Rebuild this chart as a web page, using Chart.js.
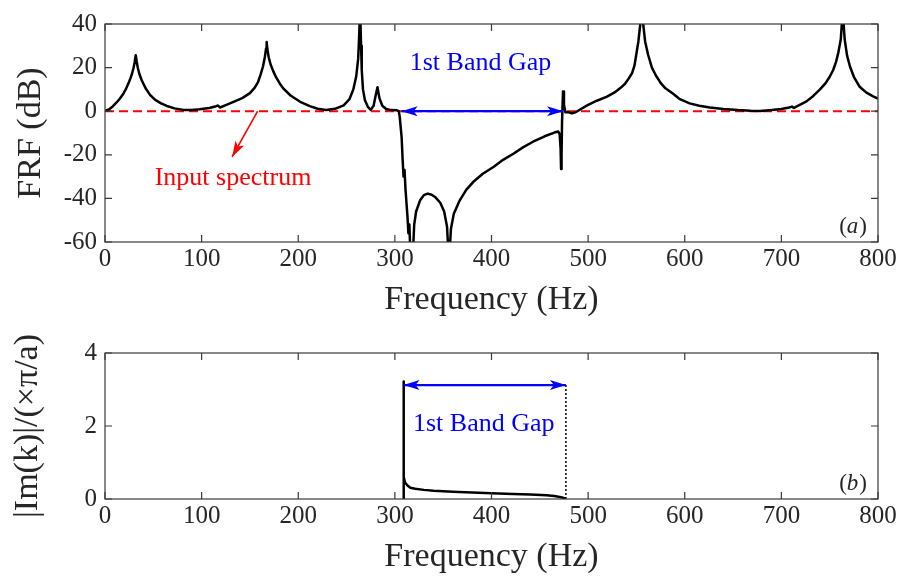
<!DOCTYPE html>
<html>
<head>
<meta charset="utf-8">
<script src="https://cdn.jsdelivr.net/npm/chart.js@4/dist/chart.umd.min.js"></script>
<style>
  html, body { margin: 0; padding: 0; background: #fff; overflow: hidden; }
  #wrap { position: relative; width: 899px; height: 576px; }
  #frfChart { position: absolute; left: 0; top: 0; }
  #imChart { position: absolute; left: 0; top: 330px; }
</style>
</head>
<body>
<div id="wrap">
  <canvas id="frfChart" width="899" height="330"></canvas>
  <canvas id="imChart" width="899" height="260"></canvas>
</div>
<script>
// (a) frequency response function
const frfHz = [
  0, 4, 8, 12, 15.5, 19, 22, 24.5, 26.5, 28, 29.5, 30.7, 31.8, 32.8, 34, 35.5, 38, 42, 46.6, 52,
  58, 64, 72, 81, 90, 98, 108, 115, 117, 119, 125, 133, 142, 150, 155, 158.5, 161, 163.5, 165.5, 166.7,
  167.3, 168, 169.5, 171.5, 174, 177, 181, 185, 192, 202, 212, 220, 229, 238, 247, 253, 257, 260, 262, 263,
  264, 265, 265.7, 267, 269, 272, 275, 278, 280, 282, 284, 287, 291, 296, 302, 304, 305, 307, 308, 309,
  310, 311, 313, 314, 315, 316, 318, 319, 320, 322, 326, 330, 334, 338, 342, 347, 351, 354, 356, 358,
  361, 367, 374, 381, 391, 402, 412, 423, 433, 443, 455, 465, 469, 470.5, 471.5, 472, 472.5, 473, 474, 475,
  476.5, 480, 483, 487, 490, 499, 509, 519, 527, 533, 538, 542, 545.5, 548, 550, 552, 554, 555.5, 557, 559,
  562, 566, 570, 575, 580, 588, 595, 605, 615, 626, 640, 655, 668, 678, 690, 700, 708, 711, 713, 718,
  726, 733, 740, 746, 750, 753.5, 756.5, 759, 761.5, 763.5, 765.5, 768, 771, 775, 781, 788, 795, 800
];
const frfDb = [
  0.2, 0.8, 2.2, 4, 5.8, 8, 10.5, 13, 15.3, 17.3, 19.8, 22.5, 25.7, 22.8, 19.8, 17.2, 14.2, 10.5, 7.5, 5.2,
  3.6, 2.4, 1.3, 0.6, 0.6, 0.9, 1.5, 2.3, 2.6, 1.7, 2.8, 4.3, 6, 8.3, 10.8, 13.5, 16.8, 20.5, 25, 28.8,
  31.8, 28.5, 24.6, 21.3, 18.5, 15.6, 12.6, 10.2, 7.2, 4.3, 2.3, 1.1, 0.5, 1.1, 2.7, 5.5, 10, 16, 24, 34,
  48, 30, 19, 10, 5, 2, 0.6, 2.5, 7, 11, 6, 2.5, 1, 0.5, 0.4, 0, -2.5, -12, -22, -30,
  -27, -36, -48, -56, -52, -65, -70, -62, -52, -46, -41, -38.5, -37.8, -38.3, -39.5, -42, -46, -53, -70, -54,
  -47, -41, -36, -32.5, -28.7, -25.6, -22.3, -19.4, -16.5, -14, -11.5, -9.8, -9.3, -10.5, -17, -26.5, -20, -5, 9, 3,
  -0.5, -0.5, -1, -0.5, 0.3, 2.7, 4.8, 6.6, 8.5, 10.5, 12.5, 15, 17.5, 21, 26.5, 32, 40, 48, 40, 32,
  26, 20, 16.5, 13, 10.5, 8, 5.5, 3.6, 2.5, 1.7, 1, 0.5, 0.2, 0.1, 0.5, 1, 1.7, 2.1, 1.5, 2.7,
  4.5, 7, 10, 13, 15.8, 18.8, 22.5, 27, 33, 46, 33, 25.5, 20.5, 15.8, 11.2, 8.5, 6.8, 5.8
];
const inputHz = [0, 800];
const inputDb = [0, 0];
const frfBandGap = [307, 474];

// (b) imaginary part of the wavenumber
const imHz = [309, 309, 309.3, 310.5, 313, 316, 321, 330, 340, 360, 380, 400, 422.5, 440, 457, 465, 472, 477];
const imK = [0, 3.22, 0.6, 0.45, 0.37, 0.31, 0.28, 0.25, 0.225, 0.2, 0.18, 0.16, 0.14, 0.12, 0.1, 0.08, 0.05, 0.01];
const edgeHz = [477, 477];
const edgeK = [0, 3.12];
const imBandGap = [309, 477];

const xTicks = { min: 0, max: 800, step: 100 };
const serif = "'Liberation Serif', 'Times New Roman', serif";
const ink = '#262626';

function pts(xs, ys) {
  return xs.map((x, i) => ({ x: x, y: ys[i] }));
}

// box round the plot area with inward tick marks on all four sides
const axisFrame = {
  id: 'axisFrame',
  afterDatasetsDraw(chart) {
    const { ctx, chartArea: a, scales } = chart;
    const len = 7;
    ctx.save();
    ctx.strokeStyle = '#3a3a3a';
    ctx.lineWidth = 1.2;
    ctx.strokeRect(a.left, a.top, a.right - a.left, a.bottom - a.top);
    ctx.beginPath();
    scales.x.ticks.forEach(t => {
      const px = scales.x.getPixelForValue(t.value);
      ctx.moveTo(px, a.bottom); ctx.lineTo(px, a.bottom - len);
      ctx.moveTo(px, a.top); ctx.lineTo(px, a.top + len);
    });
    scales.y.ticks.forEach(t => {
      const py = scales.y.getPixelForValue(t.value);
      ctx.moveTo(a.left, py); ctx.lineTo(a.left + len, py);
      ctx.moveTo(a.right, py); ctx.lineTo(a.right - len, py);
    });
    ctx.stroke();
    ctx.restore();
  }
};

function arrowHead(ctx, x0, y0, x1, y1, len, half) {
  const ang = Math.atan2(y1 - y0, x1 - x0);
  ctx.beginPath();
  ctx.moveTo(x1, y1);
  ctx.lineTo(x1 - len * Math.cos(ang) + half * Math.sin(ang), y1 - len * Math.sin(ang) - half * Math.cos(ang));
  ctx.lineTo(x1 - len * 0.75 * Math.cos(ang), y1 - len * 0.75 * Math.sin(ang));
  ctx.lineTo(x1 - len * Math.cos(ang) - half * Math.sin(ang), y1 - len * Math.sin(ang) + half * Math.cos(ang));
  ctx.closePath();
  ctx.fill();
}

function arrow(ctx, x0, y0, x1, y1, color, width, both) {
  ctx.save();
  ctx.strokeStyle = color;
  ctx.fillStyle = color;
  ctx.lineWidth = width;
  ctx.beginPath();
  ctx.moveTo(x0, y0);
  ctx.lineTo(x1, y1);
  ctx.stroke();
  arrowHead(ctx, x0, y0, x1, y1, 16, 5);
  if (both) arrowHead(ctx, x1, y1, x0, y0, 16, 5);
  ctx.restore();
}

function label(ctx, text, x, y, color, size) {
  ctx.save();
  ctx.fillStyle = color;
  ctx.font = size + 'px ' + serif;
  ctx.textAlign = 'center';
  ctx.textBaseline = 'alphabetic';
  ctx.fillText(text, x, y);
  ctx.restore();
}

// panel tag like "(a)" with an italic letter
function panelTag(ctx, chart, letter) {
  const a = chart.chartArea;
  const up = "23px " + serif, it = "italic 23px " + serif;
  ctx.save();
  ctx.fillStyle = ink;
  ctx.textBaseline = 'alphabetic';
  ctx.font = up;
  const wl = ctx.measureText('(').width, wr = ctx.measureText(')').width;
  ctx.font = it;
  const wm = ctx.measureText(letter).width;
  let x = a.right - 11 - (wl + wm + wr + 1);
  const y = a.bottom - 9;
  ctx.font = up; ctx.fillText('(', x, y); x += wl;
  ctx.font = it; ctx.fillText(letter, x, y); x += wm + 1;
  ctx.font = up; ctx.fillText(')', x, y);
  ctx.restore();
}

const frfNotes = {
  id: 'frfNotes',
  afterDatasetsDraw(chart) {
    const { ctx, scales: { x, y } } = chart;
    arrow(ctx, x.getPixelForValue(158), y.getPixelForValue(0), x.getPixelForValue(131.5), y.getPixelForValue(-21), '#ff0000', 1.6, false);
    label(ctx, 'Input spectrum', x.getPixelForValue(132.5), y.getPixelForValue(-34), '#ff0000', 26);
    arrow(ctx, x.getPixelForValue(frfBandGap[0]), y.getPixelForValue(0), x.getPixelForValue(frfBandGap[1]), y.getPixelForValue(0), '#0000ff', 2.2, true);
    label(ctx, '1st Band Gap', x.getPixelForValue(388.6), y.getPixelForValue(18.8), '#0000ff', 26);
    panelTag(ctx, chart, 'a');
  }
};

const imNotes = {
  id: 'imNotes',
  afterDatasetsDraw(chart) {
    const { ctx, scales: { x, y } } = chart;
    arrow(ctx, x.getPixelForValue(imBandGap[0]), y.getPixelForValue(3.12), x.getPixelForValue(imBandGap[1]), y.getPixelForValue(3.12), '#0000ff', 2.2, true);
    label(ctx, '1st Band Gap', x.getPixelForValue(392), y.getPixelForValue(1.87), '#0000ff', 26);
    panelTag(ctx, chart, 'b');
  }
};

function xAxis(height, titlePad) {
  return {
    type: 'linear',
    min: xTicks.min,
    max: xTicks.max,
    grid: { display: false, drawTicks: false },
    border: { display: false },
    ticks: { stepSize: xTicks.step, padding: 2, color: ink, font: { family: serif, size: 25 }, maxRotation: 0 },
    title: { display: true, text: 'Frequency (Hz)', color: ink, font: { family: serif, size: 34, lineHeight: 1 }, padding: { top: 0, bottom: titlePad } },
    afterFit(s) { s.height = height; }
  };
}

function yAxis(min, max, step, text, titlePad) {
  return {
    min: min,
    max: max,
    grid: { display: false, drawTicks: false },
    border: { display: false },
    ticks: { stepSize: step, padding: 8, color: ink, font: { family: serif, size: 25 } },
    title: { display: true, text: text, color: ink, font: { family: serif, size: 34, lineHeight: 1 }, padding: { top: titlePad, bottom: 0 } },
    afterFit(s) { s.width = 105; }
  };
}

new Chart(document.getElementById('frfChart'), {
  type: 'line',
  data: {
    datasets: [
      {
        label: 'FRF',
        data: pts(frfHz, frfDb),
        borderColor: '#000',
        borderWidth: 2.5,
        borderJoinStyle: 'round',
        pointRadius: 0,
        tension: 0,
        clip: 0
      },
      {
        label: 'Input spectrum',
        data: pts(inputHz, inputDb),
        borderColor: '#ff0000',
        borderWidth: 2,
        borderDash: [9, 5],
        pointRadius: 0,
        clip: 0
      }
    ]
  },
  options: {
    responsive: false,
    animation: false,
    devicePixelRatio: 1,
    layout: { padding: { top: 24, right: 21, left: 0, bottom: 0 } },
    plugins: { legend: { display: false }, tooltip: { enabled: false } },
    scales: {
      x: xAxis(88, 13),
      y: yAxis(-60, 40, 20, 'FRF (dB)', 14)
    }
  },
  plugins: [axisFrame, frfNotes]
});

new Chart(document.getElementById('imChart'), {
  type: 'line',
  data: {
    datasets: [
      {
        label: '|Im(k)|',
        data: pts(imHz, imK),
        borderColor: '#000',
        borderWidth: 2.5,
        borderJoinStyle: 'round',
        pointRadius: 0,
        tension: 0,
        clip: 0
      },
      {
        label: 'gap edge',
        data: pts(edgeHz, edgeK),
        borderColor: '#000',
        borderWidth: 1.5,
        borderDash: [2, 2],
        pointRadius: 0,
        clip: 0
      }
    ]
  },
  options: {
    responsive: false,
    animation: false,
    devicePixelRatio: 1,
    layout: { padding: { top: 9, right: 21, left: 0, bottom: 0 } },
    plugins: { legend: { display: false }, tooltip: { enabled: false } },
    scales: {
      x: xAxis(91, 16),
      y: yAxis(0, 4, 2, '|Im(k)|/(×π/a)', 11)
    }
  },
  plugins: [axisFrame, imNotes]
});
</script>
</body>
</html>
